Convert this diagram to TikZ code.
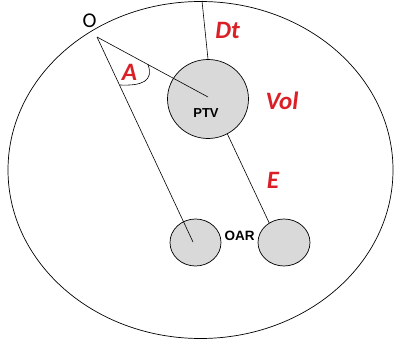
\documentclass[tikz,border=0pt]{standalone}
\usepackage{fontspec}
\setmainfont{Carlito}
\newfontfamily\arialf{Liberation Sans}
\usetikzlibrary{shapes.geometric}
\definecolor{redlab}{RGB}{218,32,38}
\definecolor{organ}{RGB}{217,217,217}
\tikzset{
  organ/.style={draw=black, line width=0.7pt, fill=organ, ellipse, inner sep=0pt},
  redlabel/.style={text=redlab, font=\fontsize{25}{25}\selectfont\bfseries\itshape, inner sep=0pt},
  blacklabel/.style={font=\arialf\fontsize{13}{13}\selectfont\bfseries, inner sep=0pt},
  conn/.style={draw=black, line width=0.6pt}
}
\begin{document}
\begin{tikzpicture}[x=1pt,y=-1pt]
\useasboundingbox (0,0) rectangle (394,345);
% body outline
\node[draw=black, line width=0.7pt, ellipse, minimum width=385, minimum height=337, inner sep=0pt] (body) at (200.5,170) {};
% organs
\node[organ, minimum width=81, minimum height=79] (ptv) at (208,99) {};
\node[organ, minimum width=51, minimum height=47] (oar1) at (195.5,242.5) {};
\node[organ, minimum width=52, minimum height=47] (oar2) at (284,242.5) {};
% points
\coordinate (o) at (97,37);
\coordinate (top) at (202,1);
\coordinate (ptvc) at (208,97);
\coordinate (oarc) at (193,242);
\coordinate (a1) at (148,64.5);
\coordinate (a2) at (120,85);
% connectors
\draw[conn] (o) -- (ptvc);
\draw[conn] (o) -- (oarc);
\draw[conn] (top) -- (ptv.north);
\draw[conn] (ptv.-61) -- (oar2.127);
\draw[conn] (a1) .. controls (154,81) and (142,86) .. (a2);
% labels
\node[font=\fontsize{21}{21}\selectfont, inner sep=0pt] (olab) at (89.5,21) {O};
\node[redlabel] (dt) at (227.5,30) {Dt};
\node[redlabel] (alab) at (129.5,72.5) {A};
\node[redlabel] (vol) at (282,101) {Vol};
\node[redlabel] (elab) at (273,180) {E};
\node[blacklabel] (ptvlab) at (206,113) {PTV};
\node[blacklabel, font=\arialf\fontsize{13.5}{13.5}\selectfont\bfseries] (oarlab) at (239.5,235.5) {OAR};
\end{tikzpicture}
\end{document}
